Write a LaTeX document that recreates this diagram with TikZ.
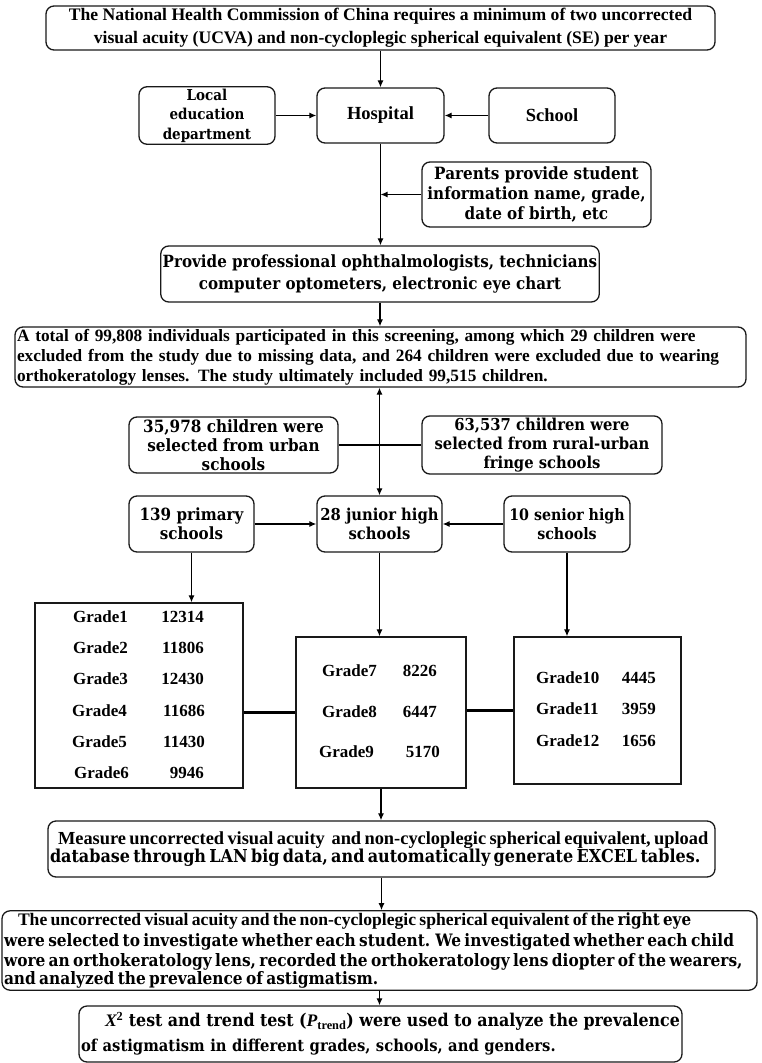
\documentclass[tikz,border=0pt]{standalone}
\usepackage{fontspec}
\usetikzlibrary{arrows.meta,calc}
\newfontfamily\timesfont{Liberation Serif}
\newfontfamily\widefont{DejaVu Serif}[FakeStretch=0.9]
\newcommand\tmf[2]{\timesfont\bfseries\fontsize{#1}{#2}\selectfont}
\newcommand\wdf[2]{\widefont\bfseries\fontsize{#1}{#2}\selectfont}
\begin{document}
\begin{tikzpicture}[x=1pt,y=-1pt,
  rbox/.style={draw=black!90, line width=1.3pt, rounded corners=8pt, inner sep=2pt, align=center},
  gbox/.style={draw=black!90, line width=1.3pt, inner sep=0pt},
  arr/.style={-{Latex[length=7pt,width=6pt]}, line width=1.2pt},
  darr/.style={{Latex[length=7pt,width=6pt]}-{Latex[length=7pt,width=6pt]}, line width=1.2pt},
  thk/.style={line width=2.2pt},
  glab/.style={inner sep=0pt, font=\tmf{17}{20}}
]
\useasboundingbox (0,0) rectangle (761,1063);

\node[rbox, minimum width=669pt, minimum height=44pt, font=\tmf{17.6}{23}] (top) at (380.5,28)
  {The National Health Commission of China requires a minimum of two uncorrected\\visual acuity (UCVA) and non-cycloplegic spherical equivalent (SE) per year};

\node[rbox, minimum width=136pt, minimum height=55pt, font=\wdf{15}{19.5}] (local) at (207,115.5)
  {Local\\education\\department};
\node[rbox, minimum width=127pt, minimum height=55pt, font=\tmf{18.5}{20}] (hosp) at (380.5,115.5) {Hospital};
\node[rbox, minimum width=126pt, minimum height=55pt, font=\tmf{18.5}{20}] (school) at (552,115.5) {School};

\node[rbox, minimum width=229pt, minimum height=65pt, font=\wdf{16.9}{20}] (parents) at (536.5,194.5)
  {Parents provide student\\information name, grade,\\date of birth, etc};

\node[rbox, minimum width=438pt, minimum height=56pt, font=\wdf{16.8}{22}] (provide) at (380,274)
  {Provide professional ophthalmologists, technicians\\computer optometers, electronic eye chart};

\node[rbox, align=left, text width=727pt, minimum height=56pt, font=\tmf{17.3}{20}] (total) at (380.5,357)
  {A total of 99,808 individuals participated in this screening, among which 29 children were\\excluded from the study due to missing data, and 264 children were excluded due to wearing\\orthokeratology lenses. The study ultimately included 99,515 children.};

\node[rbox, minimum width=209pt, minimum height=56pt, font=\wdf{16.9}{19}] (urban) at (233.5,445)
  {35,978 children were\\selected from urban\\schools};
\node[rbox, minimum width=240pt, minimum height=56pt, font=\wdf{16.4}{19}] (rural) at (542,445)
  {63,537 children were\\selected from rural-urban\\fringe schools};

\node[rbox, minimum width=125pt, minimum height=56pt, font=\wdf{16.8}{19}] (primary) at (191.5,524) {139 primary\\schools};
\node[rbox, minimum width=125pt, minimum height=56pt, font=\wdf{16.4}{19}] (junior) at (379.5,524) {28 junior high\\schools};
\node[rbox, minimum width=126pt, minimum height=56pt, font=\wdf{15.8}{19}] (senior) at (567,524) {10 senior high\\schools};

\node[gbox, minimum width=208pt, minimum height=185pt] (g1) at (139,695.5) {};
\node[gbox, minimum width=170pt, minimum height=151pt] (g2) at (381,712.5) {};
\node[gbox, minimum width=167pt, minimum height=147pt] (g3) at (597.5,710.5) {};

\node[glab, anchor=west] (l1) at (73,617) {Grade1};  \node[glab, anchor=east] (n1) at (204,617) {12314};
\node[glab, anchor=west] (l2) at (73,648) {Grade2};  \node[glab, anchor=east] (n2) at (204,648) {11806};
\node[glab, anchor=west] (l3) at (73,679) {Grade3};  \node[glab, anchor=east] (n3) at (204,679) {12430};
\node[glab, anchor=west] (l4) at (72,711) {Grade4};  \node[glab, anchor=east] (n4) at (205,711) {11686};
\node[glab, anchor=west] (l5) at (72,742) {Grade5};  \node[glab, anchor=east] (n5) at (205,742) {11430};
\node[glab, anchor=west] (l6) at (74,773) {Grade6};  \node[glab, anchor=east] (n6) at (204,773) {9946};

\node[glab, anchor=west] (l7) at (322,671) {Grade7};  \node[glab, anchor=east] (n7) at (437,671) {8226};
\node[glab, anchor=west] (l8) at (322,712) {Grade8};  \node[glab, anchor=east] (n8) at (437,712) {6447};
\node[glab, anchor=west] (l9) at (319,752) {Grade9};  \node[glab, anchor=east] (n9) at (440,752) {5170};

\node[glab, anchor=west] (l10) at (536,678) {Grade10};  \node[glab, anchor=east] (n10) at (656,678) {4445};
\node[glab, anchor=west] (l11) at (536,709) {Grade11};  \node[glab, anchor=east] (n11) at (656,709) {3959};
\node[glab, anchor=west] (l12) at (536,741) {Grade12};  \node[glab, anchor=east] (n12) at (656,741) {1656};

\node[rbox, align=left, text width=663pt, minimum height=56pt] (measure) at (381.5,849)
  {\tmf{18.4}{20}\hspace*{8pt}Measure uncorrected visual acuity\ \ and non-cycloplegic spherical equivalent, upload\\
   \wdf{17.8}{20}database through LAN big data, and automatically generate EXCEL tables.};

\node[rbox, align=left, text width=751pt, minimum height=75pt] (third) at (379.5,950.5)
  {\tmf{17.6}{20.5}\hspace*{14pt}The uncorrected visual acuity and the non-cycloplegic spherical equivalent of the \wdf{16.8}{20.5}right eye\\
   \wdf{17.1}{20.5}were selected to investigate whether each student. We investigated whether each child\\
   wore an orthokeratology lens, recorded the orthokeratology lens diopter of the wearers,\\
   and analyzed the prevalence of astigmatism.};

\node[rbox, align=left, text width=599pt, minimum height=56pt, font=\wdf{16.4}{25}] (x2) at (380.5,1034)
  {\wdf{17.6}{25}\hspace*{24pt}{\timesfont\bfseries\itshape X}\textsuperscript{\timesfont 2} test and trend test ({\timesfont\bfseries\itshape P}\textsubscript{\timesfont trend}) were used to analyze the prevalence\\
   \wdf{16.4}{25}of astigmatism in different grades, schools, and genders.};

\draw[arr] (top.south) -- (top.south |- hosp.north);
\draw[arr] (local.east) -- (hosp.west);
\draw[arr] (school.west) -- (hosp.east);
\draw[arr] (hosp.south) -- (hosp.south |- provide.north);
\draw[arr] (parents.west) -- (parents.west -| hosp.south);
\draw[arr] (provide.south) -- (provide.south |- total.north);
\draw[darr] (junior.north |- total.south) -- (junior.north);
\draw[line width=1.2pt] (urban.east) -- (rural.west);
\draw[arr] (primary.east) -- (junior.west);
\draw[arr] (senior.west) -- (junior.east);
\draw[arr] (primary.south) -- (primary.south |- g1.north);
\draw[arr] (junior.south) -- (junior.south |- g2.north);
\draw[arr] (senior.south) -- (senior.south |- g3.north);
\draw[thk] (g2.west -| g1.east) -- (g2.west);
\draw[thk] (g3.west -| g2.east) -- (g3.west);
\draw[arr] (g2.south) -- (g2.south |- measure.north);
\draw[arr] (measure.south) -- (measure.south |- third.north);
\draw[arr] (third.south) -- (third.south |- x2.north);
\end{tikzpicture}
\end{document}
